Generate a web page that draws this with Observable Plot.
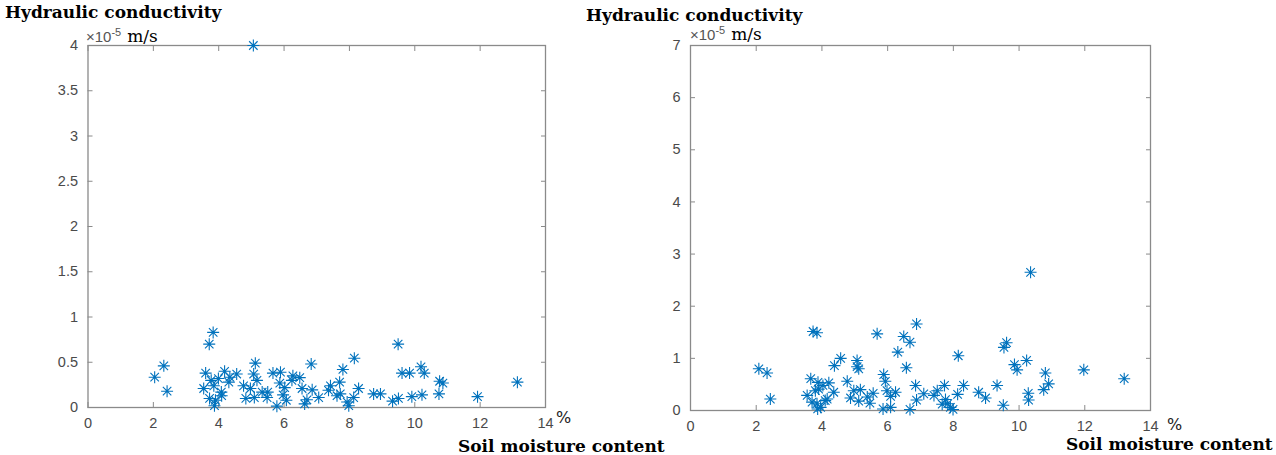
<!DOCTYPE html>
<html>
<head>
<meta charset="utf-8">
<script src="https://cdn.jsdelivr.net/npm/d3@7"></script>
<script src="https://cdn.jsdelivr.net/npm/@observablehq/plot@0.6"></script>
<style>
  html, body { margin: 0; padding: 0; background: #fff; }
  #wrap { position: relative; width: 1276px; height: 455px; overflow: hidden; }
  .panel { position: absolute; top: 0; }
  .title { position: absolute; font-family: "DejaVu Serif", serif; font-weight: bold; font-size: 17px; line-height: 17px; color: #000; white-space: nowrap; }
  .unit { position: absolute; white-space: nowrap; line-height: 17px; height: 17px; }
  .exp { font-family: "Liberation Sans", Arial, sans-serif; font-size: 15px; line-height: 15px; color: #555; }
  .exp sup { font-size: 11px; line-height: 0; }
  .ms { font-family: "DejaVu Serif", serif; font-size: 17px; line-height: 17px; color: #000; margin-left: 6px; }
  .pct { position: absolute; font-family: "DejaVu Sans", sans-serif; font-size: 16px; line-height: 16px; color: #222; }
</style>
</head>
<body>
<div id="wrap"></div>
<script>
// Soil moisture content (%) and hydraulic conductivity (×10^-5 m/s), first site
const xLeft = [5.06, 2.04, 2.32, 2.42, 3.83, 3.71, 5.12, 3.60, 3.77, 3.99, 4.18, 4.34, 4.55, 4.31,
  3.54, 3.85, 4.08, 4.09, 3.72, 3.90, 3.87, 4.76, 4.97, 4.83, 5.09, 5.07, 5.17, 5.33, 5.50, 5.48,
  5.66, 5.78, 5.89, 5.87, 6.02, 5.97, 6.07, 6.27, 6.24, 6.48, 6.83, 6.55, 6.86, 6.70, 6.63, 7.06,
  7.42, 7.36, 7.70, 7.80, 7.62, 7.72, 7.93, 7.98, 8.13, 8.15, 8.28, 8.74, 8.95, 9.32, 9.49, 9.61,
  9.50, 9.84, 10.19, 10.29, 9.91, 10.22, 10.76, 10.86, 10.74, 11.92, 13.14];
const yLeft = [4.00, 0.335, 0.46, 0.18, 0.83, 0.70, 0.49, 0.38, 0.30, 0.32, 0.40, 0.335, 0.37, 0.28,
  0.21, 0.24, 0.17, 0.13, 0.10, 0.08, 0.02, 0.24, 0.21, 0.10, 0.11, 0.37, 0.30, 0.17, 0.17, 0.11,
  0.38, 0.015, 0.39, 0.27, 0.22, 0.14, 0.08, 0.35, 0.30, 0.33, 0.48, 0.21, 0.195, 0.085, 0.04, 0.11,
  0.24, 0.19, 0.28, 0.42, 0.13, 0.15, 0.06, 0.02, 0.11, 0.545, 0.21, 0.15, 0.15, 0.07, 0.70, 0.38,
  0.10, 0.38, 0.45, 0.38, 0.12, 0.14, 0.29, 0.27, 0.15, 0.12, 0.28];

// Second site
const xRight = [2.08, 2.33, 2.43, 3.73, 3.85, 5.68, 4.57, 4.38, 5.07, 5.12, 5.07, 3.66, 3.88, 4.03,
  4.21, 3.80, 3.90, 4.36, 3.55, 3.70, 3.85, 4.10, 4.16, 3.96, 3.87, 4.77, 4.97, 5.17, 4.87, 5.12,
  5.38, 5.56, 5.46, 6.88, 6.49, 6.68, 6.31, 6.57, 5.88, 5.93, 5.98, 6.24, 6.09, 5.86, 6.09, 6.68,
  6.85, 6.88, 7.10, 7.41, 7.51, 7.73, 7.76, 7.66, 7.83, 7.91, 7.99, 8.15, 8.13, 8.31, 8.77, 8.98,
  9.33, 9.52, 9.54, 9.62, 9.86, 9.94, 10.23, 10.28, 10.29, 10.80, 10.90, 10.75, 11.97, 13.20, 10.35];
const yRight = [0.80, 0.72, 0.22, 1.515, 1.49, 1.47, 1.00, 0.86, 0.96, 0.80, 0.84, 0.61, 0.54, 0.48,
  0.53, 0.38, 0.41, 0.35, 0.29, 0.16, 0.13, 0.19, 0.22, 0.06, 0.03, 0.56, 0.38, 0.40, 0.24, 0.18,
  0.26, 0.33, 0.14, 1.66, 1.42, 1.31, 1.12, 0.82, 0.69, 0.56, 0.38, 0.35, 0.27, 0.03, 0.06, 0.02,
  0.48, 0.20, 0.32, 0.29, 0.38, 0.48, 0.21, 0.12, 0.13, 0.06, 0.02, 1.05, 0.31, 0.48, 0.35, 0.24,
  0.48, 0.10, 1.21, 1.30, 0.88, 0.78, 0.96, 0.33, 0.20, 0.72, 0.51, 0.40, 0.78, 0.61, 2.65];

const xTicks = [0, 2, 4, 6, 8, 10, 12, 14];
const yTicksLeft = [0, 0.5, 1, 1.5, 2, 2.5, 3, 3.5, 4];
const yTicksRight = [0, 1, 2, 3, 4, 5, 6, 7];

const titleY = "Hydraulic conductivity";
const titleX = "Soil moisture content";

// Eight-armed asterisk: a plus sign overlaid with a cross
const star8 = {
  draw(context, size) {
    const r = Math.sqrt(size / Math.PI);
    const d = r * Math.SQRT1_2;
    context.moveTo(0, -r); context.lineTo(0, r);
    context.moveTo(-r, 0); context.lineTo(r, 0);
    context.moveTo(-d, -d); context.lineTo(d, d);
    context.moveTo(-d, d); context.lineTo(d, -d);
  }
};

const axisColor = "#8a8a8a";
const labelColor = "#4a4a4a";
const plain = (d) => `${d}`;

function panel({xs, ys, yMax, yTicks, width, margins}) {
  const data = xs.map((x, i) => ({x, y: ys[i]}));
  const blank = () => "";
  return Plot.plot({
    width,
    height: 455,
    ...margins,
    style: {fontFamily: "'Liberation Sans', Arial, sans-serif", fontSize: "14.5px", background: "transparent", overflow: "visible"},
    x: {domain: [0, 14], ticks: xTicks, label: null},
    y: {domain: [0, yMax], ticks: yTicks, label: null},
    marks: [
      Plot.frame({stroke: axisColor, strokeWidth: 1.3}),
      Plot.axisX(xTicks, {anchor: "bottom", tickSize: -5, tickPadding: 15, tickFormat: plain, stroke: axisColor, fill: labelColor, label: null}),
      Plot.axisX(xTicks, {anchor: "top", tickSize: -5, tickFormat: blank, stroke: axisColor, label: null}),
      Plot.axisY(yTicks, {anchor: "left", tickSize: -5, tickPadding: 15, tickFormat: plain, stroke: axisColor, fill: labelColor, label: null}),
      Plot.axisY(yTicks, {anchor: "right", tickSize: -5, tickFormat: blank, stroke: axisColor, label: null}),
      Plot.dot(data, {x: "x", y: "y", symbol: star8, r: 6, fill: "none", stroke: "#0072BD", strokeWidth: 1.1})
    ]
  });
}

const wrap = document.getElementById("wrap");

function place(el, left) {
  el.classList.add("panel");
  el.style.left = left + "px";
  wrap.appendChild(el);
}

place(panel({xs: xLeft, ys: yLeft, yMax: 4, yTicks: yTicksLeft, width: 620,
  margins: {marginLeft: 87.5, marginRight: 75, marginTop: 45, marginBottom: 48}}), 0);
place(panel({xs: xRight, ys: yRight, yMax: 7, yTicks: yTicksRight, width: 656,
  margins: {marginLeft: 70, marginRight: 126, marginTop: 45, marginBottom: 45}}), 620);

function text(cls, html, left, top) {
  const d = document.createElement("div");
  d.className = cls;
  d.innerHTML = html;
  d.style.left = left + "px";
  d.style.top = top + "px";
  wrap.appendChild(d);
}

text("title", titleY, 5, 4);
text("title", titleY, 586, 7);
text("unit", '<span class="exp">&times;10<sup>-5</sup></span><span class="ms">m/s</span>', 86, 28);
text("unit", '<span class="exp">&times;10<sup>-5</sup></span><span class="ms">m/s</span>', 690, 26);
text("pct", "%", 556, 410);
text("pct", "%", 1167, 417);
text("title", titleX, 458, 438);
text("title", titleX, 1066, 436);
</script>
</body>
</html>
